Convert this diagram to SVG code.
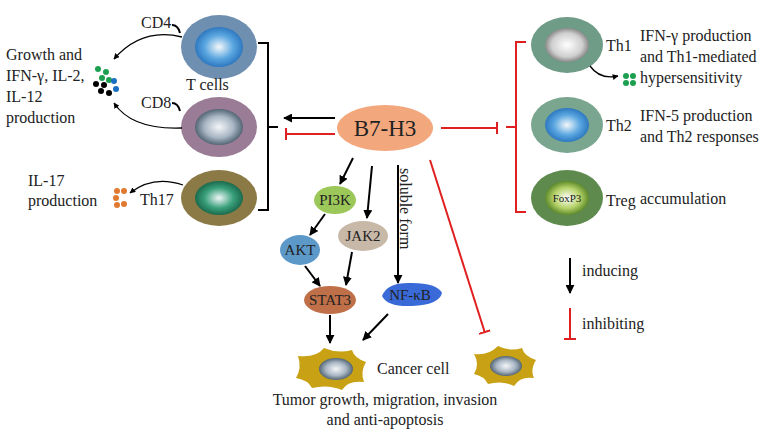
<svg xmlns="http://www.w3.org/2000/svg" width="781" height="433" viewBox="0 0 781 433">
<defs>
<radialGradient id="nb"><stop offset="0" stop-color="#f4f8fa"/><stop offset="0.6" stop-color="#5aa6e0"/><stop offset="1" stop-color="#2e78c0"/></radialGradient>
<radialGradient id="ng"><stop offset="0" stop-color="#f4f6f8"/><stop offset="0.6" stop-color="#a9b6c4"/><stop offset="1" stop-color="#536574"/></radialGradient>
<radialGradient id="ngr"><stop offset="0" stop-color="#f0f6f8"/><stop offset="0.6" stop-color="#3aa07c"/><stop offset="1" stop-color="#1a6a4c"/></radialGradient>
<radialGradient id="nw"><stop offset="0" stop-color="#fff"/><stop offset="0.7" stop-color="#cfcfcf"/><stop offset="1" stop-color="#8a8a8a"/></radialGradient>
<radialGradient id="ny"><stop offset="0" stop-color="#fff"/><stop offset="0.6" stop-color="#b6d36a"/><stop offset="1" stop-color="#5e8a2a"/></radialGradient>
<marker id="ah" viewBox="0 0 10 10" refX="9" refY="5" markerWidth="4.5" markerHeight="4.5" orient="auto"><path d="M0,0L10,5L0,10z" fill="#000"/></marker>
<marker id="tb" viewBox="0 0 4 12" refX="2" refY="6" markerWidth="4" markerHeight="12" markerUnits="userSpaceOnUse" orient="auto"><rect x="0" y="0" width="2" height="12" fill="#e02020"/></marker>
</defs>
<style>
text{font-family:"Liberation Serif","Times New Roman",serif;font-size:16px;fill:#222}
.k{stroke:#000;stroke-width:2;fill:none;marker-end:url(#ah)}
.r{stroke:#e02020;stroke-width:2;fill:none;marker-end:url(#tb)}
.thin{stroke:#000;stroke-width:1.3;fill:none;marker-end:url(#ah)}
.br{stroke:#000;stroke-width:2;fill:none}
.rb{stroke:#e02020;stroke-width:2;fill:none}
text.sig{font-size:15px;text-anchor:middle}
text.big{font-size:23px;text-anchor:middle}
text.sm{font-size:11px;text-anchor:middle}
</style>
<rect width="781" height="433" fill="#fff"/>
<g id="cd4"><ellipse cx="219" cy="47" rx="38" ry="32" fill="#6f8fb0"/><ellipse cx="219" cy="47" rx="24" ry="20" fill="url(#nb)"/><text x="141" y="28">CD4</text><path d="M172,25 q6,0 8,8" class="br" stroke-width="1.5"/><text x="186" y="90">T  cells</text></g>
<g id="cd8"><ellipse cx="219" cy="127" rx="38" ry="30" fill="#9a7c96"/><ellipse cx="219" cy="127" rx="24" ry="18" fill="url(#ng)"/><text x="141" y="108">CD8</text><path d="M172,103 q6,0 8,8" class="br" stroke-width="1.5"/></g>
<g id="th17"><ellipse cx="219" cy="198" rx="38" ry="28" fill="#8c7a46"/><ellipse cx="219" cy="198" rx="24" ry="17" fill="url(#ngr)"/><text x="140" y="205">Th17</text></g>
<g id="growth"><text x="6" y="60">Growth and</text><text x="6" y="81">IFN-γ, IL-2,</text><text x="6" y="102">IL-12</text><text x="6" y="123">production</text>
<g fill="#1ca050"><circle cx="98" cy="69" r="3"/><circle cx="106" cy="72" r="3"/><circle cx="102" cy="78" r="3"/><circle cx="109" cy="80" r="3"/></g>
<g fill="#000"><circle cx="96" cy="84" r="3"/><circle cx="104" cy="85" r="3"/><circle cx="101" cy="91" r="3"/><circle cx="109" cy="93" r="3"/></g>
<g fill="#1a70c0"><circle cx="114" cy="81" r="3"/><circle cx="116" cy="89" r="3"/></g></g>
<g id="il17"><text x="28" y="186">IL-17</text><text x="28" y="206">production</text><g fill="#e07a30"><circle cx="117" cy="191" r="3"/><circle cx="124" cy="191" r="3"/><circle cx="116" cy="198" r="3"/><circle cx="117" cy="205" r="3"/><circle cx="124" cy="204" r="3"/></g></g>
<g id="b7h3"><ellipse cx="385" cy="128" rx="48" ry="23" fill="#f2a77c"/><text class="big" x="385" y="136">B7-H3</text></g>
<g id="th1"><ellipse cx="567" cy="45" rx="36" ry="28" fill="#6e9c86"/><ellipse cx="567" cy="45" rx="22" ry="17" fill="url(#nw)"/><text x="606" y="51">Th1</text><text x="640" y="41">IFN-γ production</text><text x="640" y="62">and Th1-mediated</text><text x="640" y="83">hypersensitivity</text><g fill="#1ca050"><circle cx="626" cy="76" r="3"/><circle cx="633" cy="76" r="3"/><circle cx="626" cy="83" r="3"/><circle cx="633" cy="83" r="3"/></g></g>
<g id="th2"><ellipse cx="567" cy="125" rx="36" ry="28" fill="#7aa690"/><ellipse cx="567" cy="125" rx="22" ry="17" fill="url(#nb)"/><text x="606" y="131">Th2</text><text x="640" y="121">IFN-5 production</text><text x="640" y="142">and Th2 responses</text></g>
<g id="treg"><ellipse cx="567" cy="198" rx="36" ry="28" fill="#5e8a4e"/><ellipse cx="567" cy="198" rx="22" ry="17" fill="url(#ny)"/><text class="sm" x="567" y="202">FoxP3</text><text x="606" y="206">Treg</text><text x="640" y="204">accumulation</text></g>
<g id="pi3k"><ellipse cx="335" cy="200" rx="21" ry="14" fill="#9cc85a"/><text class="sig" x="335" y="205">PI3K</text></g>
<g id="akt"><ellipse cx="300" cy="250" rx="20" ry="15" fill="#5c98c8"/><text class="sig" x="300" y="255">AKT</text></g>
<g id="jak2"><ellipse cx="363" cy="236" rx="25" ry="15" fill="#c8b8a8"/><text class="sig" x="363" y="241">JAK2</text></g>
<g id="stat3"><ellipse cx="330" cy="300" rx="26" ry="14" fill="#c07048"/><text class="sig" x="330" y="305">STAT3</text></g>
<g id="nfkb"><path d="M382,296 q5,-14 30,-13 q25,0 30,10 q-3,12 -30,13 q-25,1 -30,-10z" fill="#3a6ad8"/><text class="sig" x="410" y="300">NF-κB</text></g>
<g id="cancer1"><path d="M298,356 q18,2 26,-8 q14,6 28,2 q2,8 14,12 q-6,10 -2,20 q-16,-2 -22,8 q-14,-6 -30,-2 q-4,-8 -16,-10 q6,-10 2,-22z" fill="#c8a214"/><ellipse cx="336" cy="369" rx="17" ry="11" fill="url(#ng)"/><text x="377" y="374">Cancer cell</text></g>
<g id="cancer2"><path d="M474,354 q14,2 24,-8 q12,6 24,2 q2,8 14,12 q-6,10 -2,18 q-14,-2 -20,8 q-12,-6 -26,-2 q-4,-8 -14,-10 q6,-10 0,-20z" fill="#c8a214"/><ellipse cx="506" cy="366" rx="16" ry="10" fill="url(#ng)"/></g>
<g id="labels"><text x="385" y="405" text-anchor="middle">Tumor growth, migration, invasion</text><text x="385" y="425" text-anchor="middle">and anti-apoptosis</text>
<text x="400" y="168" transform="rotate(90 400 168)">soluble form</text>
<text x="582" y="276">inducing</text><text x="582" y="329">inhibiting</text></g>
<g id="connectors">
<path class="br" d="M258,43 h10 v167 h-10 M268,127 h10"/>
<path class="rb" d="M526,42 h-10 v170 h10 M516,127 h-10"/>
<path class="k" d="M335,118 H284"/>
<path class="r" d="M335,134 H285"/>
<path class="r" d="M441,128 H498"/>
<path class="thin" d="M182,37 q-40,-10 -68,22"/>
<path class="thin" d="M182,128 q-50,2 -68,-25"/>
<path class="thin" d="M183,185 q-30,-10 -53,8"/>
<path class="thin" d="M590,66 q10,14 28,10"/>
<path class="k" d="M353,158 L340,184"/>
<path class="k" d="M372,166 L367,218"/>
<path class="k" d="M398,165 V283"/>
<path class="r" d="M430,160 L485,333"/>
<path class="k" d="M325,214 L310,235"/>
<path class="k" d="M305,266 L320,286"/>
<path class="k" d="M352,252 L346,285"/>
<path class="k" d="M330,315 V343"/>
<path class="k" d="M388,314 L363,340"/>
<path class="k" d="M570,258 V293"/>
<path class="r" d="M570,308 V340"/>
</g>
</svg>
